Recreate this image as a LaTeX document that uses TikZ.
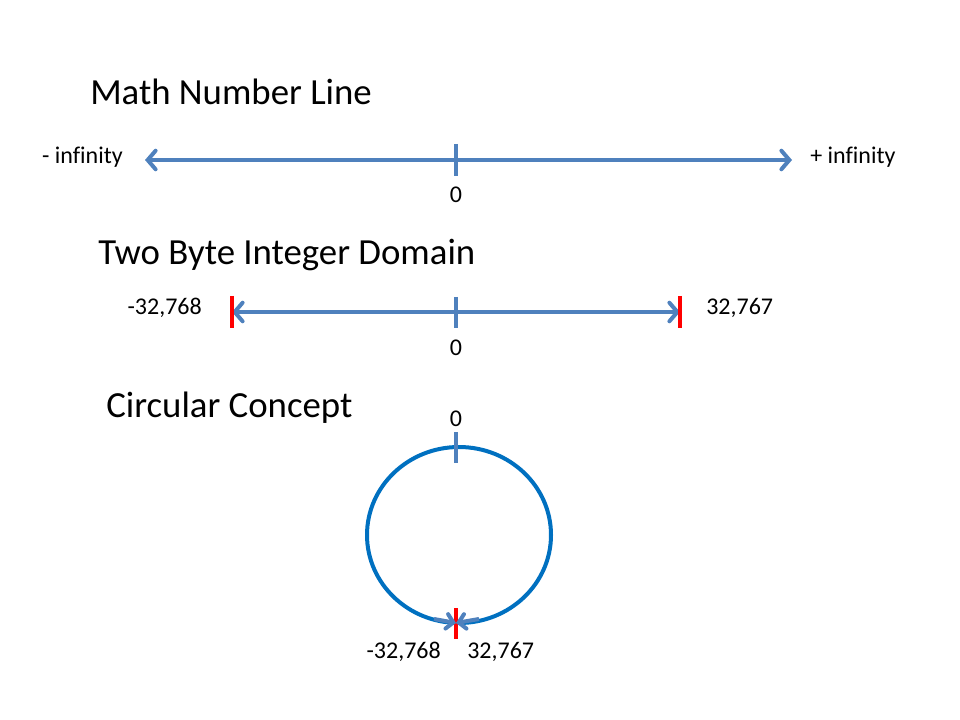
\documentclass[tikz,border=0pt]{standalone}
\usepackage{fontspec}
\setmainfont[Ligatures=NoCommon]{Carlito}
\usetikzlibrary{arrows.meta,calc}
\definecolor{LineClr}{RGB}{79,129,189}
\definecolor{CircleClr}{RGB}{0,112,192}
\definecolor{EndClr}{RGB}{255,0,0}

\begin{document}
\begin{tikzpicture}[x=0.75pt,y=-0.75pt,
  barb/.tip={Straight Barb[length=6pt,width=14pt,line cap=round]},
  numline/.style={line width=3pt,color=LineClr,barb-barb},
  halfline/.style={line width=3pt,color=LineClr,-{Straight Barb[length=5pt,width=11pt,line cap=round]}},
  zerotick/.style={line width=3pt,color=LineClr},
  endtick/.style={line width=3pt,color=EndClr},
  title/.style={font=\fontsize{27.6}{32}\selectfont,inner sep=0pt},
  lbl/.style={font=\fontsize{18}{21}\selectfont,inner sep=0pt}]
\useasboundingbox (0,0) rectangle (960,720);

% titles
\node[title,anchor=base west] (tMath) at (90,105) {Math Number Line};
\node[title,anchor=base west] (tByte) at (98,265) {Two Byte Integer Domain};
\node[title,anchor=base west] (tCirc) at (106,417) {Circular Concept};

% math number line
\coordinate (A) at (145,160);
\coordinate (B) at (792,160);
\coordinate (Z1a) at (456,144);
\coordinate (Z1b) at (456,176);
\draw[numline] (A) -- (B);
\draw[zerotick] (Z1a) -- (Z1b);
\node[lbl,anchor=base east] (mInf) at (123,164) {- infinity};
\node[lbl,anchor=base west] (pInf) at (810,164) {+ infinity};
\node[lbl,anchor=base] (zero1) at (456,203) {0};

% two byte integer domain
\coordinate (C) at (232,312);
\coordinate (D) at (680,312);
\draw[numline] (C) -- (D);
\draw[endtick] ($(C)+(0,-16)$) -- ($(C)+(0,16)$);
\draw[endtick] ($(D)+(0,-16)$) -- ($(D)+(0,16)$);
\draw[zerotick] (456,297) -- (456,328);
\node[lbl,anchor=base east] (minB) at (202,315) {-32,768};
\node[lbl,anchor=base west] (maxB) at (706,315) {32,767};
\node[lbl,anchor=base] (zero2) at (456,355) {0};

% circular concept
\coordinate (O) at (459,535);
\coordinate (E) at (456,623);
\draw[line width=3pt,color=CircleClr] (O) ellipse [x radius=69pt,y radius=66pt];
\draw[zerotick] (456,432) -- (456,463);
\draw[endtick] ($(E)+(0,-15)$) -- ($(E)+(0,16)$);
\draw[halfline] (434,619) -- (E);
\draw[halfline] (479,619) -- (E);
\node[lbl,anchor=base] (zero3) at (456,426) {0};
\node[lbl,anchor=base east] (minC) at (441,658) {-32,768};
\node[lbl,anchor=base west] (maxC) at (467,658) {32,767};

\end{tikzpicture}
\end{document}
